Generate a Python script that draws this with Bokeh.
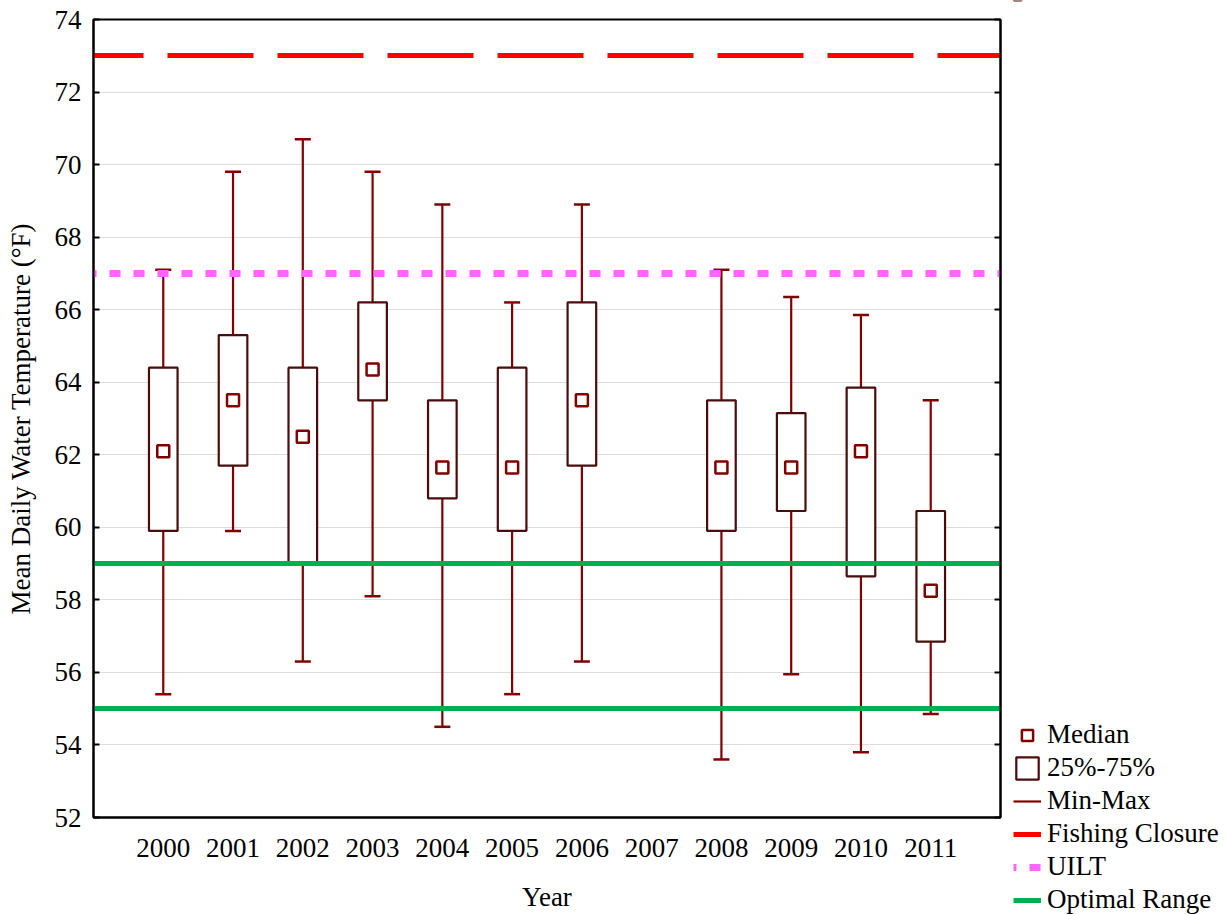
from bokeh.plotting import figure
from bokeh.layouts import row
from bokeh.models import (ColumnDataSource, FactorRange, Range1d, LinearAxis, Legend,
                          LegendItem, FixedTicker)
from bokeh.embed import file_html
from bokeh.resources import INLINE

# ---- data ----
years = ["2000", "2001", "2002", "2003", "2004", "2005", "2006",
         "2007", "2008", "2009", "2010", "2011"]
data_years = ["2000", "2001", "2002", "2003", "2004", "2005", "2006",
              "2008", "2009", "2010", "2011"]
mins    = [55.4, 59.9, 56.3, 58.1, 54.5, 55.4, 56.3, 53.6, 55.95, 53.8, 54.85]
q1      = [59.9, 61.7, 59.0, 63.5, 60.8, 59.9, 61.7, 59.9, 60.45, 58.65, 56.85]
medians = [62.1, 63.5, 62.5, 64.35, 61.65, 61.65, 63.5, 61.65, 61.65, 62.1, 58.25]
q3      = [64.4, 65.3, 64.4, 66.2, 63.5, 64.4, 66.2, 63.5, 63.15, 63.85, 60.45]
maxs    = [67.1, 69.8, 70.7, 69.8, 68.9, 66.2, 68.9, 67.1, 66.35, 65.85, 63.5]

fishing_closure = [73.0]
uilt = [67.0]
optimal_range = [55.0, 59.0]
y_ticks = [52, 54, 56, 58, 60, 62, 64, 66, 68, 70, 72, 74]
legend_labels = ["Median", "25%-75%", "Min-Max", "Fishing Closure", "UILT", "Optimal Range"]

FONT = "Liberation Serif"
FS = "27px"
WHISK = "#800000"
BOXC = "#4a0c0c"

# styles shared by the plot and the legend swatches
median_style = dict(marker="square", size=12, fill_color="white", line_color=WHISK, line_width=2.5)
box_style = dict(fill_color="white", line_color=BOXC, line_width=2.2)
stem_style = dict(line_color=WHISK, line_width=2.2)
cap_style = dict(marker="dash", size=16, line_color=WHISK, line_width=2.5)
fc_style = dict(line_color="#ff0000", line_width=5, line_dash="86 24", line_dash_offset=36)
uilt_style = dict(line_color="#ff66ff", line_width=7, line_dash="11 13", line_dash_offset=8)
opt_style = dict(line_color="#00b050", line_width=5)

src = ColumnDataSource(dict(x=data_years, lo=mins, q1=q1, med=medians, q3=q3, hi=maxs))

p = figure(width=1008, height=914,
           x_range=FactorRange(factors=years, range_padding=0.5, range_padding_units="absolute"),
           y_range=Range1d(52, 74),
           output_backend="svg", toolbar_location=None,
           min_border_left=93, min_border_top=19, min_border_bottom=96, min_border_right=8)

p.background_fill_color = "white"
p.border_fill_color = "white"
p.outline_line_color = "black"
p.outline_line_width = 2

# whisker stems and caps
p.segment(x0="x", y0="lo", x1="x", y1="hi", source=src, **stem_style)
p.scatter(x="x", y="hi", source=src, **cap_style)
p.scatter(x="x", y="lo", source=src, **cap_style)
# boxes
p.vbar(x="x", bottom="q1", top="q3", width=0.41, source=src, **box_style)
# medians
p.scatter(x="x", y="med", source=src, **median_style)

# reference lines
p.hspan(y=fishing_closure, **fc_style)
p.hspan(y=uilt, **uilt_style)
p.hspan(y=optimal_range, **opt_style)

# axes
p.yaxis.ticker = FixedTicker(ticks=y_ticks)
p.ygrid.ticker = FixedTicker(ticks=y_ticks)
p.xgrid.grid_line_color = None
p.ygrid.grid_line_color = "#dcdcdc"
p.ygrid.grid_line_width = 1

for ax in (p.xaxis[0], p.yaxis[0]):
    ax.axis_line_width = 2
    ax.axis_line_color = "black"
    ax.major_label_text_font = FONT
    ax.major_label_text_font_size = FS
    ax.major_label_text_color = "black"
    ax.axis_label_text_font = FONT
    ax.axis_label_text_font_size = FS
    ax.axis_label_text_font_style = "normal"
    ax.axis_label_text_color = "black"
    ax.minor_tick_line_color = None

p.yaxis.major_tick_in = 6
p.yaxis.major_tick_out = 0
p.yaxis.major_tick_line_width = 2
p.yaxis.major_label_standoff = 12
p.yaxis.axis_label = "Mean Daily Water Temperature (°F)"
p.yaxis.axis_label_standoff = 16

p.xaxis.major_tick_in = 0
p.xaxis.major_tick_out = 0
p.xaxis.major_label_standoff = 21
p.xaxis.axis_label = "Year"
p.xaxis.axis_label_standoff = 22

ra = LinearAxis(ticker=FixedTicker(ticks=y_ticks),
                major_label_overrides={t: "" for t in y_ticks},
                major_tick_in=6, major_tick_out=0, major_tick_line_width=2,
                minor_tick_line_color=None, axis_line_width=2, major_label_standoff=0)
p.add_layout(ra, "right")

# ---- legend panel (separate canvas to the right of the frame) ----
# its glyphs reuse the first year's values, which lie above this panel's
# (-1000, 0) y-range, so only the legend swatches show
lg = figure(width=220, height=914,
            x_range=FactorRange(factors=years), y_range=Range1d(-1000, 0),
            x_axis_location=None, y_axis_location=None,
            output_backend="svg", toolbar_location=None, min_border=0)
lg.frame_align = False
lg.outline_line_color = None
lg.xgrid.visible = False
lg.ygrid.visible = False
first = ColumnDataSource(dict(x=data_years[:1], lo=mins[:1], q1=q1[:1], med=medians[:1],
                              q3=q3[:1], hi=maxs[:1], fc=fishing_closure[:1],
                              ui=uilt[:1], opt=optimal_range[:1]))
r_med = lg.scatter(x="x", y="med", source=first, **median_style)
r_box = lg.vbar(x="x", top="q3", bottom="q1", width=0.41, source=first, **box_style)
r_stem = lg.segment(x0="x", y0="lo", x1="x", y1="hi", source=first, **stem_style)
r_fc = lg.hspan(y="fc", source=first, **fc_style)
r_ui = lg.hspan(y="ui", source=first, **uilt_style)
r_opt = lg.hspan(y="opt", source=first, **opt_style)

legend = Legend(items=[LegendItem(label=lab, renderers=[r])
                       for lab, r in zip(legend_labels, [r_med, r_box, r_stem, r_fc, r_ui, r_opt])],
                location=(1, -5), orientation="vertical",
                glyph_width=28, glyph_height=28, label_height=28,
                spacing=2, padding=4, margin=0,
                label_standoff=6, label_text_font=FONT, label_text_font_size=FS,
                label_text_color="black", border_line_alpha=0, background_fill_alpha=0)
lg.add_layout(legend, "center")

layout = row(p, lg, spacing=0)
open("out.html", "w").write(file_html(layout, INLINE))
